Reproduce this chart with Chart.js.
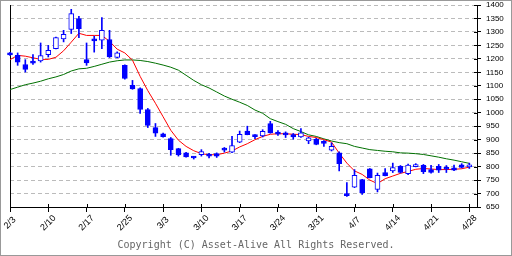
<!DOCTYPE html>
<html>
<head>
<meta charset="utf-8">
<script src="https://cdn.jsdelivr.net/npm/chart.js@4.4.1/dist/chart.umd.min.js"></script>
<style>
  html, body { margin: 0; padding: 0; background: #fff; }
  #wrap { position: relative; width: 512px; height: 256px; box-sizing: border-box; border: 1px solid #999; }
  #wrap canvas { position: absolute; left: 0; top: 0; }
  #copy { position: absolute; left: 0; width: 510px; top: 238px; line-height: 12px; text-align: center;
          font: 10px 'DejaVu Sans Mono', monospace; color: #666; }
</style>
</head>
<body>
<div id="wrap">
  <canvas id="chart" width="510" height="254"></canvas>
  <div id="copy">Copyright (C) Asset-Alive All Rights Reserved.</div>
</div>
<script>
// weekly tick labels (one every 5 sessions)
const tickLabels = ['2/3', '2/10', '2/17', '2/25', '3/3', '3/10', '3/17', '3/24', '3/31', '4/7', '4/14', '4/21', '4/28'];

// daily candles
const opens = [1222, 1213, 1179, 1191, 1192, 1216, 1238, 1274, 1309, 1350,
  1197, 1272, 1269, 1272, 1205, 1176, 1102, 1090, 1012, 945,
  922, 904, 867, 851, 834, 844, 844, 848, 867, 854,
  891, 932, 913, 914, 960, 928, 925, 919, 910, 895,
  901, 891, 861, 851, 697, 724, 752, 792, 715, 778,
  784, 801, 774, 800, 805, 789, 801, 792, 795, 807,
  799];
const highs = [1224, 1222, 1197, 1216, 1259, 1250, 1281, 1306, 1384, 1358,
  1259, 1284, 1353, 1306, 1226, 1178, 1120, 1092, 1016, 960,
  924, 908, 868, 853, 838, 863, 849, 851, 871, 912,
  932, 950, 919, 937, 968, 934, 929, 923, 941, 909,
  905, 897, 888, 855, 741, 789, 753, 793, 776, 793,
  813, 804, 809, 811, 808, 805, 808, 804, 806, 811,
  813];
const lows = [1213, 1176, 1151, 1179, 1188, 1207, 1237, 1263, 1294, 1279,
  1176, 1225, 1238, 1205, 1204, 1125, 1087, 997, 945, 912,
  909, 842, 839, 835, 828, 839, 832, 834, 854, 852,
  889, 918, 904, 910, 924, 916, 908, 902, 908, 885,
  881, 875, 858, 784, 689, 722, 697, 758, 706, 765,
  778, 776, 770, 799, 774, 776, 778, 778, 785, 795,
  793];
const closes = [1215, 1188, 1161, 1184, 1212, 1232, 1279, 1291, 1368, 1312,
  1185, 1267, 1306, 1207, 1222, 1127, 1088, 1012, 953, 924,
  911, 863, 843, 836, 832, 856, 839, 839, 861, 878,
  920, 919, 911, 931, 925, 920, 918, 910, 925, 907,
  882, 886, 875, 811, 692, 768, 702, 759, 768, 766,
  796, 778, 806, 802, 781, 778, 787, 790, 787, 797,
  807];

// moving averages (red = short, green = long)
const maShort = [1197, 1213, 1210, 1204, 1198, 1198, 1206, 1230, 1262, 1295,
  1287, 1287, 1287, 1265, 1236, 1222, 1195, 1135, 1082, 1035,
  985, 935, 898, 875, 859, 848, 844, 844, 850, 858,
  873, 885, 900, 912, 920, 922, 922, 920, 919, 912,
  908, 900, 891, 850, 813, 784, 771, 750, 737, 755,
  765, 775, 782, 790, 793, 791, 789, 789, 790, 792,
  798];
const maLong = [1086, 1095, 1104, 1110, 1117, 1126, 1133, 1142, 1155, 1163,
  1165, 1172, 1180, 1188, 1193, 1196, 1196, 1194, 1190, 1184,
  1177, 1169, 1158, 1139, 1120, 1104, 1092, 1077, 1062, 1050,
  1039, 1027, 1010, 998, 978, 967, 957, 941, 930, 918,
  912, 903, 895, 889, 885, 875, 869, 863, 860, 857,
  855, 851, 850, 848, 845, 840, 835, 829, 824, 818,
  812];

const BLUE = '#0000ff';

const idx = opens.map((_, i) => i);
const bodyData = idx.map(i => ({ x: i, y: [opens[i], closes[i]] }));
const wickData = idx.map(i => ({ x: i, y: [lows[i], highs[i]] }));
const shortData = idx.map(i => ({ x: i, y: maShort[i] }));
const longData = idx.map(i => ({ x: i, y: maLong[i] }));

// left axis line, inner tick stubs and the slanted date labels
const axisDeco = {
  id: 'axisDeco',
  beforeDatasetsDraw(chart) {
    const { ctx, chartArea: a, scales: { x, y } } = chart;
    ctx.save();
    ctx.strokeStyle = '#000';
    ctx.lineWidth = 1;
    ctx.beginPath();
    const lx = Math.round(a.left) + 0.5;
    ctx.moveTo(lx, a.top);
    ctx.lineTo(lx, a.bottom);
    y.ticks.forEach(t => {
      const py = Math.round(y.getPixelForValue(t.value)) + 0.5;
      ctx.moveTo(a.right - 3, py);
      ctx.lineTo(a.right, py);
    });
    x.ticks.forEach(t => {
      const px = Math.round(x.getPixelForValue(t.value)) + 0.5;
      ctx.moveTo(px, a.bottom - 3);
      ctx.lineTo(px, a.bottom);
    });
    ctx.stroke();

    ctx.fillStyle = '#000';
    ctx.font = '9px "Liberation Sans"';
    ctx.textAlign = 'center';
    ctx.textBaseline = 'middle';
    x.ticks.forEach(t => {
      const label = tickLabels[Math.round(t.value / 5)];
      if (!label) return;
      ctx.save();
      ctx.translate(x.getPixelForValue(t.value), a.bottom + 16);
      ctx.rotate(-Math.PI / 4);
      ctx.fillText(label, 0, 0);
      ctx.restore();
    });
    ctx.restore();
  }
};

new Chart(document.getElementById('chart'), {
  type: 'bar',
  data: {
    datasets: [
      {
        label: 'body',
        data: bodyData,
        backgroundColor: (c) => closes[c.dataIndex] >= opens[c.dataIndex] ? '#ffffff' : BLUE,
        borderColor: BLUE,
        borderWidth: 1,
        borderSkipped: false,
        barThickness: 5,
        minBarLength: 2,
        grouped: false,
        clip: false,
        order: 0
      },
      {
        label: 'wick',
        data: wickData,
        backgroundColor: BLUE,
        borderWidth: 0,
        barThickness: 1,
        grouped: false,
        clip: false,
        order: 1
      },
      {
        type: 'line',
        label: 'short',
        data: shortData,
        borderColor: '#ff0000',
        borderWidth: 1,
        pointRadius: 0,
        tension: 0,
        order: 2
      },
      {
        type: 'line',
        label: 'long',
        data: longData,
        borderColor: '#007000',
        borderWidth: 1,
        pointRadius: 0,
        tension: 0,
        order: 3
      }
    ]
  },
  options: {
    responsive: false,
    animation: false,
    devicePixelRatio: 1,
    layout: { padding: { left: 9, top: 4, right: 0, bottom: 0 } },
    plugins: {
      legend: { display: false },
      tooltip: { enabled: false }
    },
    scales: {
      x: {
        type: 'linear',
        min: 0,
        max: 61,
        offset: false,
        grid: { offset: false, drawOnChartArea: false, drawTicks: true, tickLength: 5, tickColor: '#000', color: '#000' },
        border: { color: '#000', width: 1 },
        ticks: { display: false },
        afterBuildTicks: (s) => { s.ticks = tickLabels.map((_, k) => ({ value: k * 5 })); },
        afterFit: (s) => { s.height = 48; s.paddingLeft = 0; s.paddingRight = 0; }
      },
      y: {
        position: 'right',
        min: 650,
        max: 1400,
        ticks: {
          stepSize: 50,
          color: '#000',
          font: { family: 'Liberation Sans', size: 8 },
          padding: 5,
          callback: (v) => String(v)
        },
        grid: { color: '#bbbbbb', tickColor: '#000', tickLength: 4, lineWidth: 1 },
        border: { color: '#000', width: 1, dash: [4, 3] },
        afterFit: (s) => { s.width = 34; s.paddingTop = 0; s.paddingBottom = 0; }
      }
    }
  },
  plugins: [axisDeco]
});
</script>
</body>
</html>
